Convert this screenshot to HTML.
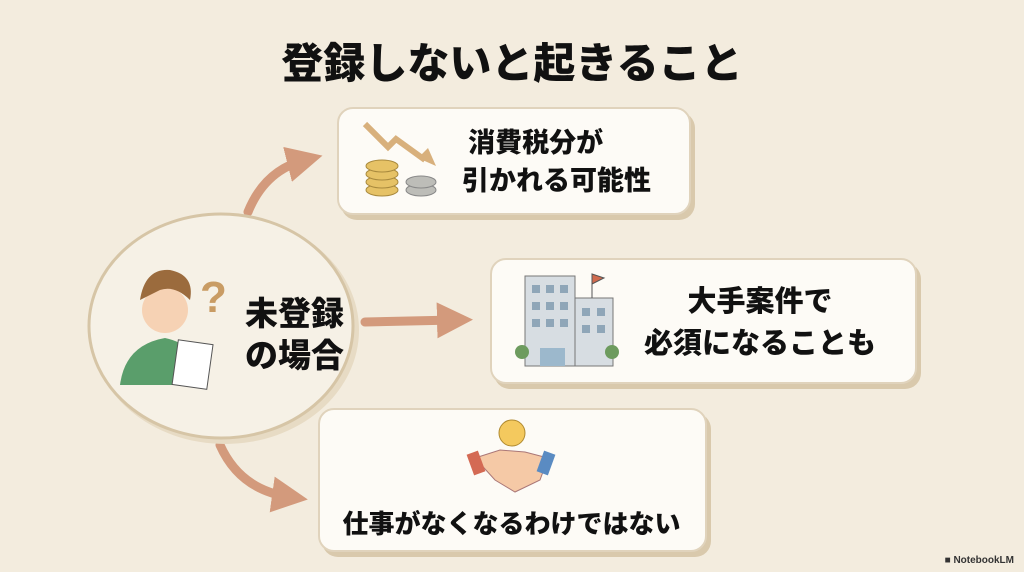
<!DOCTYPE html><html><head><meta charset="utf-8"><style>
body{margin:0;width:1024px;height:572px;background:#f3ecde;position:relative;overflow:hidden;font-family:"Liberation Sans","Noto Sans CJK JP",sans-serif;}
.t{position:absolute;font-weight:900;color:#111;font-family:"Noto Sans CJK JP",sans-serif;white-space:nowrap;}
.box{position:absolute;background:#fdfbf6;border:2px solid #e0d3bc;border-radius:16px;box-shadow:4px 5px 0 #d9c9ac;}
svg{position:absolute;left:0;top:0}
</style></head><body>
<div class="t" style="left:0;width:1024px;text-align:center;top:30px;font-size:42px;">登録しないと起きること</div>
<svg width="1024" height="572">
<defs><marker id="a" markerWidth="4" markerHeight="4" refX="2" refY="2" orient="auto"><path d="M0,0 L4,2 L0,4 Z" fill="#d39a7c"/></marker></defs>
<g stroke="#d39a7c" stroke-width="9" fill="none" stroke-linecap="round">
<path d="M248,212 Q265,170 305,160" marker-end="url(#a)"/>
<path d="M365,322 L455,320" marker-end="url(#a)"/>
<path d="M220,445 Q240,490 290,497" marker-end="url(#a)"/>
</g>
<ellipse cx="225" cy="330" rx="134" ry="114" fill="#e7dbc4"/>
<ellipse cx="221" cy="326" rx="132" ry="112" fill="#f6f1e6" stroke="#d6c5a6" stroke-width="3"/>
<circle cx="165" cy="310" r="23" fill="#f6d2b4"/>
<path d="M140,300 Q145,268 170,270 Q195,275 190,300 Q175,285 160,290 Z" fill="#9b6b3d"/>
<path d="M120,385 Q125,345 165,338 Q200,345 205,385 Z" fill="#5a9e6b"/>
<rect x="175" y="342" width="35" height="45" fill="#fff" stroke="#555" transform="rotate(8 192 365)"/>
<text x="200" y="312" font-size="44" fill="#c99c64" font-family="Liberation Sans" font-weight="bold">?</text>
</svg>
<div class="t" style="left:245px;top:290px;font-size:33px;line-height:42px;">未登録<br>の場合</div>
<div class="box" style="left:337px;top:107px;width:350px;height:104px;"></div>
<div class="t" style="left:462px;top:122px;font-size:27px;line-height:38px;">&nbsp;消費税分が<br>引かれる可能性</div>
<div class="box" style="left:490px;top:258px;width:423px;height:122px;"></div>
<div class="t" style="left:630px;top:278px;width:260px;text-align:center;font-size:29px;line-height:42px;">大手案件で<br>必須になることも</div>
<div class="box" style="left:318px;top:408px;width:385px;height:140px;"></div>
<div class="t" style="left:318px;top:504px;width:387px;text-align:center;font-size:26px;">仕事がなくなるわけではない</div>
<svg width="1024" height="572">
<g fill="#e6c266" stroke="#a98a3e"><ellipse cx="382" cy="190" rx="16" ry="6"/><ellipse cx="382" cy="182" rx="16" ry="6"/><ellipse cx="382" cy="174" rx="16" ry="6"/><ellipse cx="382" cy="166" rx="16" ry="6"/></g>
<g fill="#bdbdb8" stroke="#888"><ellipse cx="421" cy="190" rx="15" ry="6"/><ellipse cx="421" cy="182" rx="15" ry="6"/></g>
<path d="M365,124 L388,147 L396,139 L425,160" stroke="#d8b07c" stroke-width="6" fill="none"/>
<path d="M418,158 L436,166 L428,148 Z" fill="#d8b07c"/>
<rect x="525" y="276" width="50" height="90" fill="#d7dde2" stroke="#777"/>
<rect x="575" y="298" width="38" height="68" fill="#d7dde2" stroke="#777"/>
<g fill="#8fa6b8"><rect x="532" y="285" width="8" height="8"/><rect x="546" y="285" width="8" height="8"/><rect x="560" y="285" width="8" height="8"/><rect x="532" y="302" width="8" height="8"/><rect x="546" y="302" width="8" height="8"/><rect x="560" y="302" width="8" height="8"/><rect x="532" y="319" width="8" height="8"/><rect x="546" y="319" width="8" height="8"/><rect x="560" y="319" width="8" height="8"/><rect x="582" y="308" width="8" height="8"/><rect x="597" y="308" width="8" height="8"/><rect x="582" y="325" width="8" height="8"/><rect x="597" y="325" width="8" height="8"/></g>
<rect x="540" y="348" width="25" height="18" fill="#9cb8cc"/>
<circle cx="522" cy="352" r="7" fill="#6d9b5e"/><circle cx="612" cy="352" r="7" fill="#6d9b5e"/>
<path d="M592,298 V274 L604,278 L592,284" stroke="#555" fill="#d06a4e"/>
<circle cx="512" cy="433" r="13" fill="#f4c95e" stroke="#b08a30"/>
<path d="M475,458 L500,450 L525,452 L548,458 L540,480 L515,492 L495,480 Z" fill="#f5c9a6" stroke="#a77"/>
<rect x="470" y="452" width="12" height="22" fill="#d46a54" transform="rotate(-20 476 463)"/>
<rect x="540" y="452" width="12" height="22" fill="#5a8bc2" transform="rotate(20 546 463)"/>
</svg>
<div style="position:absolute;right:10px;bottom:6px;font-size:10px;font-weight:bold;color:#333">■ NotebookLM</div>
</body></html>
